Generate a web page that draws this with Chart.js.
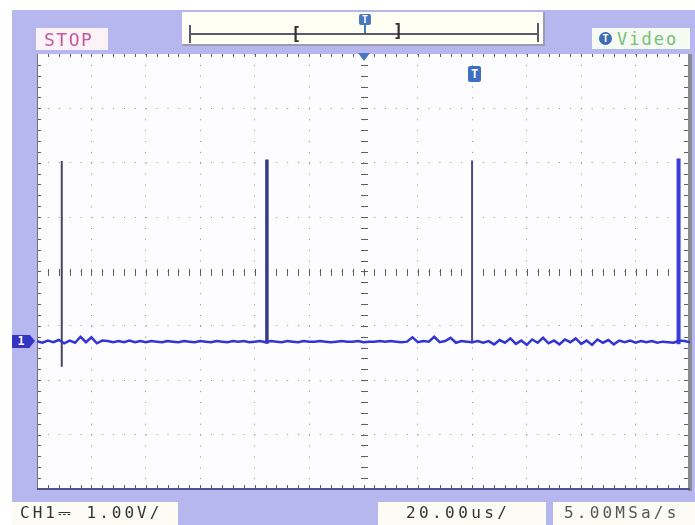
<!DOCTYPE html>
<html>
<head>
<meta charset="utf-8">
<script src="https://cdn.jsdelivr.net/npm/chart.js@4.4.1/dist/chart.umd.min.js"></script>
<style>
  html, body { margin: 0; padding: 0; background: #fff; }
  #wrap { position: relative; width: 695px; height: 525px; overflow: hidden; font-family: "DejaVu Sans Mono", monospace; }
  #bezel { position: absolute; left: 12px; top: 10px; width: 683px; height: 515px; background: #b7b7ef; }
  canvas { position: absolute; left: 0; top: 0; }
  .abs { position: absolute; white-space: pre; line-height: 1; }
  .box { position: absolute; background: #fcfcf5; }
</style>
</head>
<body>
<div id="wrap">
  <div id="bezel"></div>
  <canvas id="scope" width="695" height="525"></canvas>

  <!-- top bar -->
  <div class="box" style="left:36px;top:28px;width:72px;height:22px;background:#fbf3f8;"></div>
  <div class="abs" style="left:44px;top:31px;font-size:18px;letter-spacing:1.5px;color:#c4589c;">STOP</div>

  <div class="box" style="left:182px;top:12px;width:361px;height:32px;background:#fffff3;border-right:2px solid #9a9ab0;border-bottom:2px solid #9a9ab0;"></div>
  <div class="abs" style="left:190px;top:33px;width:349px;height:2px;background:#5a5a6a;"></div>
  <div class="abs" style="left:189px;top:25px;width:2px;height:18px;background:#5a5a6a;"></div>
  <div class="abs" style="left:537px;top:23px;width:2px;height:19px;background:#5a5a6a;"></div>
  <div class="abs" style="left:291px;top:26px;font-size:17px;font-weight:bold;color:#333;">[</div>
  <div class="abs" style="left:393px;top:23px;font-size:17px;font-weight:bold;color:#333;">]</div>
  <div class="abs" style="left:359px;top:14px;width:12px;height:11px;background:#4a78c0;border-radius:2px;color:#fff;font-size:10px;font-weight:bold;text-align:center;line-height:11px;">T</div>
  <div class="abs" style="left:364px;top:25px;width:2px;height:8px;background:#4a78c0;"></div>

  <div class="abs" style="left:358px;top:53px;width:0;height:0;border-left:6px solid transparent;border-right:6px solid transparent;border-top:8px solid #4a78c0;"></div>
  <div class="abs" style="left:468px;top:66px;width:13px;height:16px;background:#3f6fc0;border-radius:2px;color:#fff;font-size:12px;font-weight:bold;text-align:center;line-height:16px;">T</div>

  <div class="box" style="left:592px;top:28px;width:98px;height:21px;background:#f5fbf3;"></div>
  <div class="abs" style="left:599px;top:32px;width:13px;height:13px;border-radius:7px;background:#3d6cb8;color:#fff;font-size:10px;font-weight:bold;text-align:center;line-height:13px;">T</div>
  <div class="abs" style="left:617px;top:31px;font-size:17px;letter-spacing:2px;color:#78c078;">Video</div>

  <!-- channel marker -->
  <div class="abs" style="left:12px;top:335px;width:18px;height:13px;background:#3434c4;color:#fff;font-size:12px;font-weight:bold;text-align:center;line-height:13px;">1</div>
  <div class="abs" style="left:30px;top:335px;width:0;height:0;border-top:6.5px solid transparent;border-bottom:6.5px solid transparent;border-left:5px solid #3434c4;"></div>

  <!-- bottom bar -->
  <div class="box" style="left:12px;top:502px;width:166px;height:23px;"></div>
  <div class="abs" style="left:20px;top:505px;font-size:16px;letter-spacing:3px;color:#333;">CH1⎓ 1.00V/</div>
  <div class="box" style="left:378px;top:502px;width:168px;height:23px;"></div>
  <div class="abs" style="left:406px;top:505px;font-size:16px;letter-spacing:3.4px;color:#333;">20.00us/</div>
  <div class="box" style="left:553px;top:502px;width:142px;height:23px;"></div>
  <div class="abs" style="left:564px;top:505px;font-size:16px;letter-spacing:3.2px;color:#555;">5.00MSa/s</div>
</div>

<script>
// screen: 12 x 8 divisions, 20 us/div, 1 V/div
const TIME_MIN = -120;
const TIME_MAX = 120;
const TIME_DIV = 20;
const VOLT_MIN = -4;
const VOLT_MAX = 4;
const VOLT_DIV = 1;
const CH1_OFFSET = -1.29; // ground marker, in divisions below centre

// baseline samples, one every 2 us starting at -120 us (volts)
const TRACE_START = -120;
const TRACE_STEP = 2;
const traceVolts = [
  0.01, -0.02, 0.02, -0.01, 0.03, -0.03, 0.02, -0.02, 0.09, -0.01,
  0.08, -0.03, 0.02, 0.01, -0.01, 0.01, -0.01, 0.02, -0.01, 0.01,
  -0.01, 0.01, 0.00, -0.01, 0.01, 0.00, -0.01, 0.01, 0.00, -0.01,
  0.01, 0.00, -0.01, 0.01, 0.00, -0.01, 0.01, 0.00, 0.01, -0.01,
  0.00, 0.01, -0.01, 0.01, 0.00, -0.01, 0.01, 0.00, -0.01, 0.01,
  0.00, 0.00, 0.01, 0.00, -0.01, 0.00, 0.01, 0.00, 0.00, 0.01,
  -0.01, 0.00, 0.00, 0.01, 0.00, 0.01, 0.00, -0.01, 0.00, 0.08,
  -0.01, 0.01, 0.00, 0.09, -0.01, 0.01, 0.07, -0.02, 0.01, 0.00,
  -0.01, 0.01, -0.02, 0.01, -0.05, 0.03, -0.02, 0.06, -0.04, 0.02,
  -0.06, 0.04, -0.02, 0.07, -0.03, 0.02, -0.05, 0.04, -0.01, 0.06,
  -0.04, 0.02, -0.06, 0.04, -0.02, 0.03, -0.05, 0.02, -0.01, 0.02,
  -0.02, 0.01, -0.01, 0.01, -0.02, 0.00, -0.01, -0.02, 0.02, 0.01, -0.01
];

// sync pulses
const spikeTimes = [-110.9, -35.5, 39.9, 115.8];
const spikeTops = [3.32, 3.35, 3.33, 3.37];
const spikeDips = [-0.46, -0.04, -0.03, -0.05];

const spikeColors = ["#46465e", "#3b3b82", "#4b4b7e", "#3a3ae0"];
const spikeWidths = [2, 3.5, 2, 4];

const traceData = traceVolts.map((v, i) => ({ x: TRACE_START + i * TRACE_STEP, y: v + CH1_OFFSET }));

const spikeSets = spikeTimes.map((t, i) => ({
  data: [
    { x: t, y: CH1_OFFSET },
    { x: t, y: spikeTops[i] + CH1_OFFSET },
    { x: t, y: spikeDips[i] + CH1_OFFSET },
    { x: t, y: CH1_OFFSET }
  ],
  showLine: true,
  borderColor: spikeColors[i],
  borderWidth: spikeWidths[i],
  pointRadius: 0
}));

const scopeFrame = {
  id: "scopeFrame",
  beforeDraw(chart) {
    const { ctx, chartArea: a } = chart;
    ctx.save();
    ctx.fillStyle = "#fdfdff";
    ctx.fillRect(a.left, a.top, a.right - a.left, a.bottom - a.top);
    ctx.restore();
  },
  beforeDatasetsDraw(chart) {
    const { ctx, chartArea: a, scales } = chart;
    const xs = scales.x, ys = scales.y;
    const x0 = Math.round(xs.getPixelForValue(0));
    const y0 = Math.round(ys.getPixelForValue(0));
    ctx.save();
    // minor ticks on centre lines and frame
    ctx.fillStyle = "#5e5e66";
    for (let v = TIME_MIN; v <= TIME_MAX; v += TIME_DIV / 5) {
      const px = Math.round(xs.getPixelForValue(v));
      ctx.fillRect(px, y0 - 3, 1, 7);
      ctx.fillRect(px, a.top, 1, 3);
      ctx.fillRect(px, a.bottom - 4, 1, 3);
    }
    for (let v = VOLT_MIN; v <= VOLT_MAX; v += VOLT_DIV / 5) {
      const py = Math.round(ys.getPixelForValue(v));
      ctx.fillRect(x0 - 3, py, 7, 1);
      ctx.fillRect(a.left, py, 4, 1);
      ctx.fillRect(a.right - 6, py, 4, 1);
    }
    // frame
    ctx.fillStyle = "#707078";
    ctx.fillRect(a.left, a.top, 1, a.bottom - a.top);
    ctx.fillStyle = "#8a8a92";
    ctx.fillRect(a.right - 2, a.top, 4, a.bottom - a.top + 2);
    ctx.fillStyle = "#50508c";
    ctx.fillRect(a.left, a.bottom - 1, a.right - a.left, 2);
    ctx.restore();
  }
};

const edgeHidden = (lo, hi) => (c) =>
  (c.tick && (c.tick.value === lo || c.tick.value === hi)) ? "rgba(0,0,0,0)" : "#8e8e98";

new Chart(document.getElementById("scope"), {
  type: "scatter",
  data: {
    datasets: [
      {
        data: traceData,
        showLine: true,
        borderColor: "#3434d2",
        borderWidth: 2.5,
        pointRadius: 0
      },
      ...spikeSets
    ]
  },
  options: {
    responsive: false,
    animation: false,
    devicePixelRatio: 1,
    layout: { padding: { left: 37, top: 54, right: 5, bottom: 36 } },
    plugins: { legend: { display: false }, tooltip: { enabled: false } },
    scales: {
      x: {
        type: "linear",
        min: TIME_MIN,
        max: TIME_MAX,
        ticks: { display: false, stepSize: TIME_DIV },
        grid: { drawTicks: false, color: edgeHidden(TIME_MIN, TIME_MAX) },
        border: { display: false, dash: [1, 9.875] }
      },
      y: {
        type: "linear",
        min: VOLT_MIN,
        max: VOLT_MAX,
        ticks: { display: false, stepSize: VOLT_DIV },
        grid: { drawTicks: false, color: edgeHidden(VOLT_MIN, VOLT_MAX) },
        border: { display: false, dash: [1, 9.875] }
      }
    }
  },
  plugins: [scopeFrame]
});
</script>
</body>
</html>
